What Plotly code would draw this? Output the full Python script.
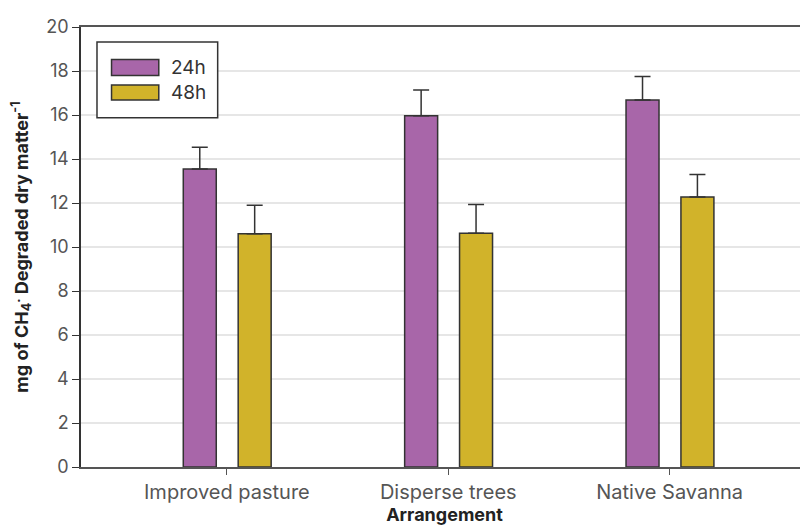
import plotly.graph_objects as go

categories = ["Improved pasture", "Disperse trees", "Native Savanna"]
series_names = ["24h", "48h"]
values_24h = [13.55, 15.97, 16.68]
values_48h = [10.6, 10.63, 12.27]
err_24h = [0.98, 1.17, 1.07]
err_48h = [1.3, 1.3, 1.02]
y_ticks = [0, 2, 4, 6, 8, 10, 12, 14, 16, 18, 20]

colors = ["#A866A9", "#D1B32A"]
xpos = list(range(len(categories)))
FONT = "Inter, Roboto, sans-serif"

fig = go.Figure()
for name, vals, errs, col, off in [
    (series_names[0], values_24h, err_24h, colors[0], -0.197),
    (series_names[1], values_48h, err_48h, colors[1], 0.051),
]:
    fig.add_trace(go.Bar(
        x=xpos, y=vals, name=name, showlegend=False,
        width=0.149, offset=off,
        marker=dict(color=col, line=dict(color="#333333", width=1.5)),
        error_y=dict(type="data", array=errs, symmetric=False, arrayminus=[0]*len(errs),
                     color="#333333", thickness=1.5, width=8),
    ))

# custom legend (box, swatches, labels) in paper coordinates
fig.add_shape(type="rect", xref="paper", yref="paper", x0=0.022, x1=0.188, y0=0.794, y1=0.966,
              line=dict(color="#333333", width=1.5), fillcolor="white", layer="above")
sw_y = [(0.890, 0.926), (0.834, 0.868)]
txt_y = [0.908, 0.851]
for i, name in enumerate(series_names):
    fig.add_shape(type="rect", xref="paper", yref="paper", x0=0.042, x1=0.107,
                  y0=sw_y[i][0], y1=sw_y[i][1],
                  line=dict(color="#333333", width=1.5), fillcolor=colors[i], layer="above")
    fig.add_annotation(xref="paper", yref="paper", x=0.121, y=txt_y[i], text=name,
                       showarrow=False, xanchor="left", yanchor="middle",
                       font=dict(family=FONT, size=19, color="#333333"))

fig.update_layout(
    width=808, height=526,
    margin=dict(l=72, r=8, t=12, b=67),
    plot_bgcolor="white", paper_bgcolor="white",
    font=dict(family=FONT, size=16, color="#555555"),
    barmode="overlay",
    showlegend=False,
    xaxis=dict(
        tickmode="array", tickvals=xpos, ticktext=categories,
        range=[-0.659, 2.625],
        showline=True, linecolor="#555555", linewidth=1.5, mirror=True,
        ticks="outside", ticklen=6, tickcolor="#555555",
        tickfont=dict(size=20, color="#555555"),
        showgrid=False, zeroline=False,
        title=dict(text="<b>Arrangement</b>", font=dict(size=18, color="#222222"), standoff=6),
    ),
    yaxis=dict(
        range=[0, 20], tickvals=y_ticks,
        showline=True, linecolor="#333333", linewidth=1.5,
        ticks="outside", ticklen=7, tickcolor="#333333",
        tickfont=dict(size=18, color="#555555"),
        showgrid=True, gridcolor="#E6E6E6", gridwidth=1.5, zeroline=False,
        title=dict(text="<b>mg of CH<sub>4</sub><sup>.</sup> Degraded dry matter<sup>-1</sup></b>",
                   font=dict(size=18, color="#222222"), standoff=18),
    ),
)

fig.write_html("out.html")
